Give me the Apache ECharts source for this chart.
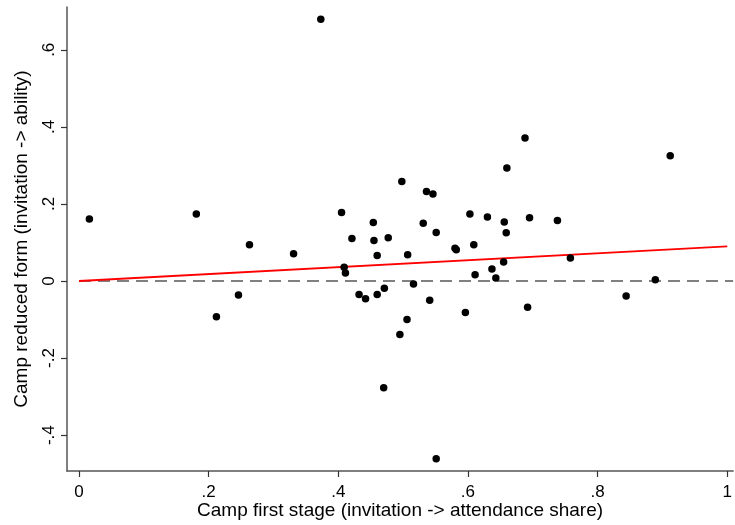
<!DOCTYPE html>
<html>
<head>
<meta charset="utf-8">
<script src="https://cdn.jsdelivr.net/npm/echarts@6/dist/echarts.min.js"></script>
<style>html,body{margin:0;padding:0;background:#fff;}#c{width:735px;height:525px;}</style>
</head>
<body>
<div id="c"></div>
<script>
// Camp first stage (x) vs camp reduced form (y)
const firstStage = [0.016,0.181,0.263,0.212,0.246,0.331,0.373,0.405,0.409,0.411,0.421,0.432,0.442,0.454,0.455,0.460,0.460,0.470,0.471,0.477,0.495,0.498,0.506,0.507,0.516,0.531,0.536,0.546,0.551,0.551,0.541,0.580,0.582,0.596,0.603,0.609,0.611,0.630,0.637,0.643,0.655,0.656,0.659,0.660,0.688,0.692,0.695,0.738,0.758,0.844,0.889,0.912];
const reducedForm = [0.161,0.174,0.094,-0.093,-0.036,0.071,0.679,0.178,0.036,0.021,0.110,-0.035,-0.046,0.152,0.105,0.066,-0.035,-0.277,-0.019,0.112,-0.139,0.258,-0.100,0.068,-0.008,0.150,0.232,0.226,0.126,-0.461,-0.050,0.085,0.081,-0.082,0.174,0.094,0.016,0.166,0.031,0.008,0.049,0.153,0.125,0.293,0.371,-0.068,0.164,0.157,0.060,-0.039,0.003,0.325];
const fitX = [0, 1];
const fitY = [0.0, 0.09];
const refX = [0, 1.009];
const refY = [0, 0];
const xTicks = [0, 0.2, 0.4, 0.6, 0.8, 1];
const yTicks = [-0.4, -0.2, 0, 0.2, 0.4, 0.6];

function fmt(v){
  const r = Math.round(v*10)/10;
  if (r === 0) return '0';
  if (r === 1) return '1';
  let s = String(r);
  return s.replace('0.', '.');
}

const font = '"Liberation Sans", Arial, sans-serif';
const chart = echarts.init(document.getElementById('c'), null, {renderer:'canvas'});
chart.setOption({
  animation: false,
  backgroundColor: '#fff',
  grid: {left: 67, right: 0, top: 7, bottom: 53.3, containLabel: false},
  xAxis: {
    type: 'value', min: -0.0185, max: 1.009,
    splitLine: {show: false},
    axisLine: {show: true, onZero: false, lineStyle: {color: '#555', width: 1.5}},
    axisTick: {show: true, customValues: xTicks, length: 6, lineStyle: {color: '#333', width: 1.2}},
    axisLabel: {customValues: xTicks, formatter: fmt, fontFamily: font, fontSize: 17, color: '#000', margin: 13},
    name: 'Camp first stage (invitation -> attendance share)',
    nameLocation: 'middle', nameGap: 30, nameMoveOverlap: false,
    nameTextStyle: {fontFamily: font, fontSize: 19, color: '#000'}
  },
  yAxis: {
    type: 'value', min: -0.493, max: 0.711,
    splitLine: {show: false},
    axisLine: {show: true, onZero: false, lineStyle: {color: '#555', width: 1.5}},
    axisTick: {show: true, customValues: yTicks, length: 6, lineStyle: {color: '#333', width: 1.2}},
    axisLabel: {customValues: yTicks, formatter: fmt, rotate: 90, fontFamily: font, fontSize: 17, color: '#000', margin: 9},
    name: 'Camp reduced form (invitation -> ability)',
    nameLocation: 'middle', nameGap: 36, nameMoveOverlap: false,
    nameTextStyle: {fontFamily: font, fontSize: 19, color: '#000'}
  },
  series: [
    {
      type: 'line', data: refX.map((x,i)=>[x, refY[i]]), symbol: 'none',
      lineStyle: {color: '#808080', width: 1.8, type: [12, 7]}, z: 1, silent: true
    },
    {
      type: 'line', data: fitX.map((x,i)=>[x, fitY[i]]), symbol: 'none',
      lineStyle: {color: '#ff0000', width: 1.8}, z: 2, silent: true
    },
    {
      type: 'scatter', data: firstStage.map((x,i)=>[x, reducedForm[i]]),
      symbol: 'circle', symbolSize: 7.5, itemStyle: {color: '#000', opacity: 1}, z: 3
    }
  ]
});
</script>
</body>
</html>
